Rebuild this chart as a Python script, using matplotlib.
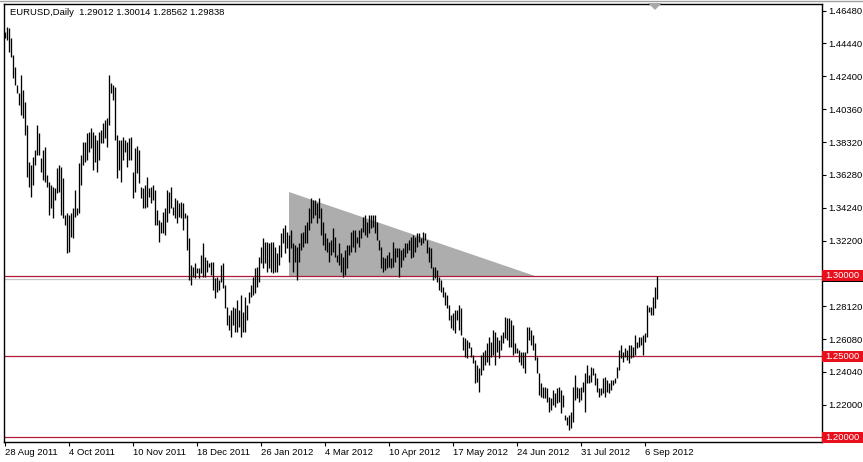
import numpy as np
import matplotlib.pyplot as plt
import matplotlib.transforms as mtransforms
from matplotlib.patches import Polygon, Rectangle
from matplotlib.lines import Line2D

plt.rcParams['font.family'] = ['Liberation Sans', 'DejaVu Sans']

chart_title = 'EURUSD,Daily  1.29012 1.30014 1.28562 1.29838'

# daily bars, 28 Aug 2011 .. 14 Sep 2012 (high / low)
highs = [
    1.4515, 1.4546, 1.4540, 1.4478, 1.4373, 1.4298, 1.4187, 1.4137, 1.4249, 1.4156, 1.4081, 1.3938,
    1.3708, 1.3690, 1.3740, 1.3783, 1.3938, 1.3888, 1.3733, 1.3783, 1.3800, 1.3628, 1.3584, 1.3566,
    1.3553, 1.3547, 1.3671, 1.3690, 1.3677, 1.3609, 1.3379, 1.3391, 1.3379, 1.3391, 1.3422, 1.3535,
    1.3422, 1.3702, 1.3752, 1.3832, 1.3832, 1.3888, 1.3894, 1.3919, 1.3894, 1.3876, 1.3845, 1.3894,
    1.3907, 1.3950, 1.3969, 1.3981, 1.4249, 1.4199, 1.4187, 1.4174, 1.3876, 1.3845, 1.3845, 1.3864,
    1.3845, 1.3832, 1.3857, 1.3864, 1.3646, 1.3795, 1.3807, 1.3783, 1.3553, 1.3547, 1.3566, 1.3615,
    1.3547, 1.3553, 1.3566, 1.3535, 1.3410, 1.3348, 1.3335, 1.3397, 1.3422, 1.3535, 1.3522, 1.3553,
    1.3429, 1.3485, 1.3472, 1.3453, 1.3460, 1.3453, 1.3391, 1.3379, 1.3236, 1.3068, 1.3055, 1.3080,
    1.3049, 1.3049, 1.3130, 1.3205, 1.3118, 1.3099, 1.3080, 1.3086, 1.3086, 1.2988, 1.2994, 1.2975,
    1.3068, 1.3080, 1.2944, 1.2808, 1.2758, 1.2789, 1.2808, 1.2801, 1.2851, 1.2789, 1.2882, 1.2777,
    1.2870, 1.2820, 1.2901, 1.2944, 1.2994, 1.3049, 1.3055, 1.3118, 1.3180, 1.3236, 1.3211, 1.3211,
    1.3205, 1.3211, 1.3211, 1.3180, 1.3142, 1.3193, 1.3267, 1.3298, 1.3317, 1.3273, 1.3254, 1.3286,
    1.3205, 1.3193, 1.3180, 1.3205, 1.3267, 1.3273, 1.3317, 1.3335, 1.3422, 1.3485, 1.3472, 1.3472,
    1.3453, 1.3485, 1.3422, 1.3335, 1.3267, 1.3236, 1.3211, 1.3224, 1.3298, 1.3242, 1.3130, 1.3205,
    1.3142, 1.3118, 1.3161, 1.3193, 1.3193, 1.3273, 1.3286, 1.3286, 1.3242, 1.3286, 1.3298, 1.3366,
    1.3379, 1.3335, 1.3379, 1.3379, 1.3379, 1.3379, 1.3335, 1.3224, 1.3180, 1.3118, 1.3111, 1.3130,
    1.3149, 1.3111, 1.3211, 1.3173, 1.3173, 1.3173, 1.3161, 1.3173, 1.3205, 1.3205, 1.3224, 1.3242,
    1.3254, 1.3242, 1.3267, 1.3267, 1.3236, 1.3273, 1.3267, 1.3224, 1.3180, 1.3173, 1.3055, 1.3055,
    1.3037, 1.2994, 1.2975, 1.2932, 1.2901, 1.2882, 1.2820, 1.2758, 1.2770, 1.2789, 1.2789, 1.2820,
    1.2801, 1.2622, 1.2615, 1.2603, 1.2591, 1.2559, 1.2509, 1.2478, 1.2447, 1.2429, 1.2509, 1.2528,
    1.2540, 1.2584, 1.2622, 1.2591, 1.2665, 1.2653, 1.2622, 1.2603, 1.2634, 1.2653, 1.2745, 1.2739,
    1.2739, 1.2727, 1.2696, 1.2584, 1.2553, 1.2540, 1.2528, 1.2528, 1.2528, 1.2684, 1.2684, 1.2665,
    1.2634, 1.2584, 1.2497, 1.2397, 1.2335, 1.2311, 1.2311, 1.2304, 1.2248, 1.2242, 1.2292, 1.2273,
    1.2304, 1.2311, 1.2292, 1.2260, 1.2137, 1.2124, 1.2137, 1.2155, 1.2311, 1.2385, 1.2311, 1.2304,
    1.2311, 1.2342, 1.2397, 1.2447, 1.2385, 1.2435, 1.2429, 1.2397, 1.2366, 1.2304, 1.2304, 1.2366,
    1.2373, 1.2354, 1.2335, 1.2354, 1.2354, 1.2366, 1.2435, 1.2540, 1.2571, 1.2528, 1.2553, 1.2540,
    1.2571, 1.2571, 1.2559, 1.2634, 1.2591, 1.2622, 1.2622, 1.2634, 1.2646, 1.2820, 1.2808, 1.2808,
    1.2870, 1.2932, 1.30014,
]
lows = [
    1.4478, 1.4466, 1.4392, 1.4361, 1.4230, 1.4187, 1.4137, 1.4062, 1.4000, 1.3981, 1.3876, 1.3615,
    1.3553, 1.3491, 1.3566, 1.3690, 1.3752, 1.3752, 1.3646, 1.3597, 1.3584, 1.3553, 1.3379, 1.3422,
    1.3360, 1.3472, 1.3516, 1.3522, 1.3379, 1.3360, 1.3317, 1.3142, 1.3149, 1.3242, 1.3236, 1.3366,
    1.3379, 1.3391, 1.3566, 1.3690, 1.3708, 1.3721, 1.3771, 1.3795, 1.3659, 1.3708, 1.3646, 1.3721,
    1.3826, 1.3826, 1.3857, 1.3800, 1.3938, 1.4137, 1.4093, 1.3845, 1.3609, 1.3659, 1.3584, 1.3721,
    1.3771, 1.3677, 1.3721, 1.3721, 1.3485, 1.3522, 1.3640, 1.3578, 1.3485, 1.3422, 1.3422, 1.3429,
    1.3491, 1.3453, 1.3472, 1.3317, 1.3317, 1.3211, 1.3267, 1.3267, 1.3254, 1.3335, 1.3391, 1.3422,
    1.3379, 1.3360, 1.3329, 1.3366, 1.3360, 1.3286, 1.3360, 1.3161, 1.2975, 1.2944, 1.2994, 1.2988,
    1.3018, 1.2988, 1.3018, 1.2994, 1.2994, 1.3024, 1.3055, 1.3006, 1.2913, 1.2863, 1.2901, 1.2913,
    1.2963, 1.2925, 1.2801, 1.2696, 1.2665, 1.2622, 1.2696, 1.2653, 1.2653, 1.2684, 1.2622, 1.2653,
    1.2653, 1.2727, 1.2832, 1.2870, 1.2882, 1.2894, 1.2932, 1.2963, 1.3080, 1.3049, 1.3080, 1.3024,
    1.3049, 1.3024, 1.3018, 1.3024, 1.3024, 1.3068, 1.3118, 1.3205, 1.3142, 1.3173, 1.3086, 1.3173,
    1.3024, 1.3086, 1.2975, 1.3086, 1.3161, 1.3180, 1.3205, 1.3205, 1.3286, 1.3329, 1.3360, 1.3379,
    1.3329, 1.3360, 1.3254, 1.3193, 1.3161, 1.3149, 1.3086, 1.3130, 1.3149, 1.3118, 1.3086, 1.3068,
    1.3024, 1.2994, 1.3006, 1.3049, 1.3130, 1.3149, 1.3180, 1.3149, 1.3205, 1.3180, 1.3236, 1.3273,
    1.3254, 1.3242, 1.3267, 1.3298, 1.3304, 1.3267, 1.3224, 1.3161, 1.3049, 1.3024, 1.3037, 1.3049,
    1.3055, 1.3049, 1.3055, 1.3086, 1.3118, 1.2994, 1.3055, 1.3099, 1.3118, 1.3142, 1.3161, 1.3111,
    1.3118, 1.3149, 1.3180, 1.3211, 1.3193, 1.3205, 1.3224, 1.3142, 1.3086, 1.3049, 1.2975, 1.2988,
    1.2963, 1.2913, 1.2901, 1.2870, 1.2820, 1.2801, 1.2727, 1.2677, 1.2665, 1.2646, 1.2727, 1.2665,
    1.2634, 1.2540, 1.2497, 1.2491, 1.2553, 1.2497, 1.2460, 1.2335, 1.2342, 1.2280, 1.2385, 1.2416,
    1.2447, 1.2466, 1.2447, 1.2497, 1.2509, 1.2447, 1.2528, 1.2491, 1.2540, 1.2584, 1.2615, 1.2603,
    1.2559, 1.2559, 1.2509, 1.2522, 1.2522, 1.2466, 1.2447, 1.2429, 1.2397, 1.2522, 1.2603, 1.2571,
    1.2540, 1.2478, 1.2397, 1.2260, 1.2248, 1.2242, 1.2242, 1.2218, 1.2155, 1.2168, 1.2199, 1.2186,
    1.2211, 1.2218, 1.2149, 1.2186, 1.2106, 1.2075, 1.2044, 1.2056, 1.2093, 1.2230, 1.2242, 1.2218,
    1.2230, 1.2280, 1.2155, 1.2335, 1.2335, 1.2342, 1.2385, 1.2323, 1.2280, 1.2248, 1.2260, 1.2273,
    1.2248, 1.2280, 1.2273, 1.2292, 1.2323, 1.2335, 1.2366, 1.2416, 1.2491, 1.2466, 1.2497, 1.2478,
    1.2460, 1.2491, 1.2497, 1.2509, 1.2553, 1.2559, 1.2571, 1.2509, 1.2591, 1.2622, 1.2777, 1.2758,
    1.2758, 1.2801, 1.28562,
]

date_labels = ['28 Aug 2011', '4 Oct 2011', '10 Nov 2011', '18 Dec 2011', '26 Jan 2012',
               '4 Mar 2012', '10 Apr 2012', '17 May 2012', '24 Jun 2012', '31 Jul 2012',
               '6 Sep 2012']
label_bars = [0, 32, 64, 96, 128, 160, 192, 224, 256, 288, 320]

price_ticks = [1.22000, 1.24040, 1.26080, 1.28120, 1.32200, 1.34240, 1.36280,
               1.38320, 1.40360, 1.42400, 1.44440, 1.46480]

level_lines = [1.30000, 1.25000, 1.20000]
last_close = 1.29838

# descending triangle drawn on the chart
triangle_bars = [142, 142, 265]
triangle_prices = [1.3522, 1.3000, 1.3000]


fig = plt.figure(figsize=(8.63, 4.62), dpi=100)
fig.patch.set_facecolor('white')
ax = fig.add_axes([4 / 863, 20 / 462, 818 / 863, 438 / 462])

bars = np.arange(len(highs))

ax.add_patch(Polygon(list(zip(triangle_bars, triangle_prices)), closed=True,
                     facecolor='#ADADAD', edgecolor='none', zorder=1))
for lvl in level_lines:
    ax.axhline(lvl, color='#B01C38', lw=0.9, zorder=2)
ax.axhline(last_close, color='#C4C4C4', lw=0.9, zorder=2)
ax.vlines(bars, lows, highs, colors='black', linewidth=0.95, zorder=3)

ax.set_xlim(-0.5, 408.5)
ax.set_ylim(1.1969, 1.4689)

ax.yaxis.tick_right()
ax.set_yticks(price_ticks)
ax.set_yticklabels(['%.5f' % p for p in price_ticks])
ax.set_xticks(label_bars)
ax.set_xticklabels(date_labels, ha='left')
ax.tick_params(axis='both', direction='out', length=3, width=0.8,
               labelsize=6.8, pad=1.5, colors='black')
for sp in ax.spines.values():
    sp.set_linewidth(1.0)
    sp.set_color('black')

ax.text(6 / 818, 1 - 8.7 / 438, chart_title, transform=ax.transAxes,
        fontsize=6.8, va='center', ha='left')

# price labels on the right scale
trans = mtransforms.blended_transform_factory(ax.transAxes, ax.transData)
box_w = 41 / 818
box_h = 11 / 1610
ax.add_patch(Rectangle((1.0, last_close - box_h / 2 + 0.0012), box_w, box_h,
                       transform=trans, facecolor='black', edgecolor='none',
                       clip_on=False, zorder=5))
for lvl in level_lines:
    ax.add_patch(Rectangle((1.0, lvl - box_h / 2), box_w, box_h, transform=trans,
                           facecolor='#E8101C', edgecolor='none', clip_on=False, zorder=6))
    ax.text(1.0 + box_w / 2, lvl, '%.5f' % lvl, transform=trans, color='white',
            fontsize=6.8, ha='center', va='center', zorder=7, clip_on=False)

# chart shift marker and window edge
fig.add_artist(Polygon([(648 / 863, 1 - 3 / 462), (662 / 863, 1 - 3 / 462), (655 / 863, 1 - 10 / 462)],
                       closed=True, facecolor='#A8A8A8', edgecolor='none',
                       transform=fig.transFigure))
fig.add_artist(Line2D([0, 1], [1 - 1 / 462, 1 - 1 / 462], color='#A0A0A0', lw=1,
                      transform=fig.transFigure))

fig.savefig('out.png', dpi=100, facecolor='white')
